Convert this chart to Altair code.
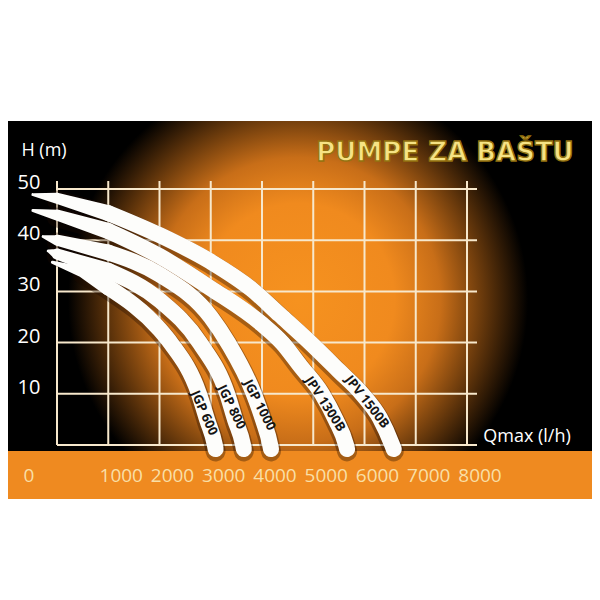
import altair as alt
import pandas as pd

# ---------------- data ----------------
series_names = ["JPV 1500B", "JPV 1300B", "JGP 1000", "JGP 800", "JGP 600"]

q_jpv1500 = [-470, 0, 1000, 2000, 3000, 3800, 4350, 4950, 5500, 5950, 6300, 6540, 6570]
h_jpv1500 = [48.9, 48.2, 45.3, 41.0, 35.8, 30.4, 25.4, 19.9, 14.5, 10.0, 5.3, 0.0, -0.8]

q_jpv1300 = [-470, 0, 1000, 2000, 3000, 4000, 4400, 4750, 5170, 5440, 5640, 5660]
h_jpv1300 = [45.8, 44.9, 41.8, 36.9, 30.6, 23.6, 19.9, 15.4, 10.0, 4.9, 0.0, -0.8]

q_jgp1000 = [-270, 0, 1000, 2000, 3000, 3340, 3840, 4020, 4160, 4175]
h_jgp1000 = [40.7, 40.0, 37.6, 33.3, 25.0, 19.9, 10.0, 4.9, 0.0, -0.8]

q_jgp800 = [-170, 0, 1000, 2000, 2790, 3320, 3475, 3630, 3645]
h_jgp800 = [37.9, 37.3, 34.0, 28.3, 19.9, 10.0, 4.9, 0.0, -0.8]

q_jgp600 = [-90, 500, 1000, 2000, 2220, 2770, 2930, 3080, 3095]
h_jgp600 = [35.7, 33.8, 30.8, 22.6, 19.9, 10.0, 4.9, 0.0, -0.8]

series_q = [q_jpv1500, q_jpv1300, q_jgp1000, q_jgp800, q_jgp600]
series_h = [h_jpv1500, h_jpv1300, h_jgp1000, h_jgp800, h_jgp600]

# where each curve's name sits on its band
label_q = [6049, 5230, 3950, 3405, 2868]
label_h = [8.4, 8.0, 7.8, 7.4, 6.25]

x_ticks = [0, 1000, 2000, 3000, 4000, 5000, 6000, 7000, 8000]
x_tick_labels = [1000, 2000, 3000, 4000, 5000, 6000, 7000, 8000]
y_ticks = [0, 10, 20, 30, 40, 50]
y_tick_labels = [10, 20, 30, 40, 50]

title_text = "PUMPE ZA BAŠTU"
y_title = "H (m)"
x_title = "Qmax (l/h)"

# ---------------- build tables ----------------
rows = []
for name, qs, hs in zip(series_names, series_q, series_h):
    for i, (q, h) in enumerate(zip(qs, hs)):
        rows.append({"series": name, "i": i, "Q": q, "H": h})
curves_df = pd.DataFrame(rows)

W, H = 584, 580
FONT = "Open Sans"

xscale = alt.Scale(domain=[-956.1, 10439.0], nice=False, zero=False)
yscale = alt.Scale(domain=[-27.93, 85.352], nice=False, zero=False)

dummy = pd.DataFrame({"d": [0]})


def deco_rect(x, x2, y, y2, **kw):
    return alt.Chart(dummy).mark_rect(**kw).encode(
        x=alt.value(x), x2=alt.value(x2), y=alt.value(y), y2=alt.value(y2)
    )


glow = alt.RadialGradient(
    gradient="radial",
    stops=[
        alt.GradientStop(color="#f6921f", offset=0),
        alt.GradientStop(color="#f08a1e", offset=0.42),
        alt.GradientStop(color="#c86e18", offset=0.62),
        alt.GradientStop(color="#6a3a0c", offset=0.8),
        alt.GradientStop(color="#000000", offset=1),
    ],
    x1=0.5, y1=0.5, x2=0.5, y2=0.5, r1=0, r2=0.5,
)

bg_black = deco_rect(0, W, 113, 443, color="black")
bg_glow = deco_rect(60, 520, 62, 522, fill=glow)
cover_top = deco_rect(0, W, 0, 113, color="white")
cover_bottom = deco_rect(0, W, 491, H, color="white")
strip = deco_rect(0, W, 443, 491, color="#ef8a20")

grid_color = "#f7e8cc"
vgrid = alt.Chart(pd.DataFrame({"Q": x_ticks})).mark_rule(
    color=grid_color, strokeWidth=2
).encode(
    x=alt.X("Q:Q", scale=xscale, axis=None),
    y=alt.value(173),
    y2=alt.value(437),
)
hgrid = alt.Chart(pd.DataFrame({"H": y_ticks})).mark_rule(
    color=grid_color, strokeWidth=2
).encode(
    y=alt.Y("H:Q", scale=yscale, axis=None),
    x=alt.value(49),
    x2=alt.value(469),
)

enc = dict(
    x=alt.X("Q:Q", scale=xscale, axis=None),
    detail="series:N",
    order="i:Q",
)

shadow = alt.Chart(curves_df).transform_filter("datum.i >= 1").transform_calculate(
    Hs="datum.H - 0.45"
).mark_line(
    color="#1a0900", opacity=0.35, strokeWidth=20, strokeCap="round",
    strokeJoin="round", interpolate="monotone",
).encode(y=alt.Y("Hs:Q", scale=yscale, axis=None), **enc)

band_color = "#fdfdfb"
band_tips = alt.Chart(curves_df).transform_filter("datum.i <= 2").transform_calculate(
    w="datum.i == 0 ? 3 : (datum.i == 1 ? 11 : 16)"
).mark_trail(color=band_color).encode(
    y=alt.Y("H:Q", scale=yscale, axis=None),
    size=alt.Size("w:Q", scale=None, legend=None),
    **enc,
)

bands = alt.Chart(curves_df).transform_filter("datum.i >= 2").mark_line(
    color=band_color, strokeWidth=16, strokeCap="round",
    strokeJoin="round", interpolate="monotone",
).encode(y=alt.Y("H:Q", scale=yscale, axis=None), **enc)

label_angles = [52, 57, 63, 64, 66]
curve_labels = []
for name, q, h, ang in zip(series_names, label_q, label_h, label_angles):
    curve_labels.append(
        alt.Chart(pd.DataFrame({"Q": [q], "H": [h], "t": [name]})).mark_text(
            angle=ang, font=FONT, fontSize=13, fontWeight="bold",
            color="#151515", align="center", baseline="middle",
        ).encode(
            x=alt.X("Q:Q", scale=xscale, axis=None),
            y=alt.Y("H:Q", scale=yscale, axis=None),
            text="t:N",
        )
    )

ylabels = alt.Chart(pd.DataFrame({"H": y_tick_labels})).mark_text(
    font=FONT, fontSize=20, color="white", align="center", baseline="middle", dy=-6
).encode(
    x=alt.value(21),
    y=alt.Y("H:Q", scale=yscale, axis=None),
    text=alt.Text("H:Q", format="d"),
)

label_color = "#f9dfa6"
xlabels = alt.Chart(pd.DataFrame({"Q": x_tick_labels})).mark_text(
    font=FONT, fontSize=19, color=label_color, align="center", baseline="middle", dx=13
).encode(
    x=alt.X("Q:Q", scale=xscale, axis=None),
    y=alt.value(468),
    text=alt.Text("Q:Q", format="d"),
)
xlabel0 = alt.Chart(pd.DataFrame({"Q": [x_ticks[0]]})).mark_text(
    font=FONT, fontSize=19, color=label_color, align="center", baseline="middle", dx=-28
).encode(
    x=alt.X("Q:Q", scale=xscale, axis=None),
    y=alt.value(468),
    text=alt.Text("Q:Q", format="d"),
)

ytitle = alt.Chart(dummy).mark_text(
    font=FONT, fontSize=18, color="white", align="center", baseline="middle"
).encode(x=alt.value(36), y=alt.value(143), text=alt.value(y_title))

xtitle = alt.Chart(dummy).mark_text(
    font=FONT, fontSize=18, color="white", align="center", baseline="middle"
).encode(x=alt.value(519), y=alt.value(429), text=alt.value(x_title))

title = alt.Chart(dummy).mark_text(
    font="DejaVu Sans", fontSize=26, fontWeight="bold", color="#f6e384",
    stroke="#94720f", strokeWidth=1.4, align="center", baseline="middle",
).encode(x=alt.value(437), y=alt.value(145), text=alt.value(title_text))

chart = alt.layer(
    bg_black, bg_glow, cover_top, cover_bottom, strip,
    vgrid, hgrid, shadow, band_tips, bands, *curve_labels,
    ylabels, xlabels, xlabel0, ytitle, xtitle, title,
).properties(
    width=W, height=H, padding=0, autosize="none", background="white"
).configure_view(stroke=None)

chart.save("out.html", embed_options={"renderer": "svg", "actions": False})
